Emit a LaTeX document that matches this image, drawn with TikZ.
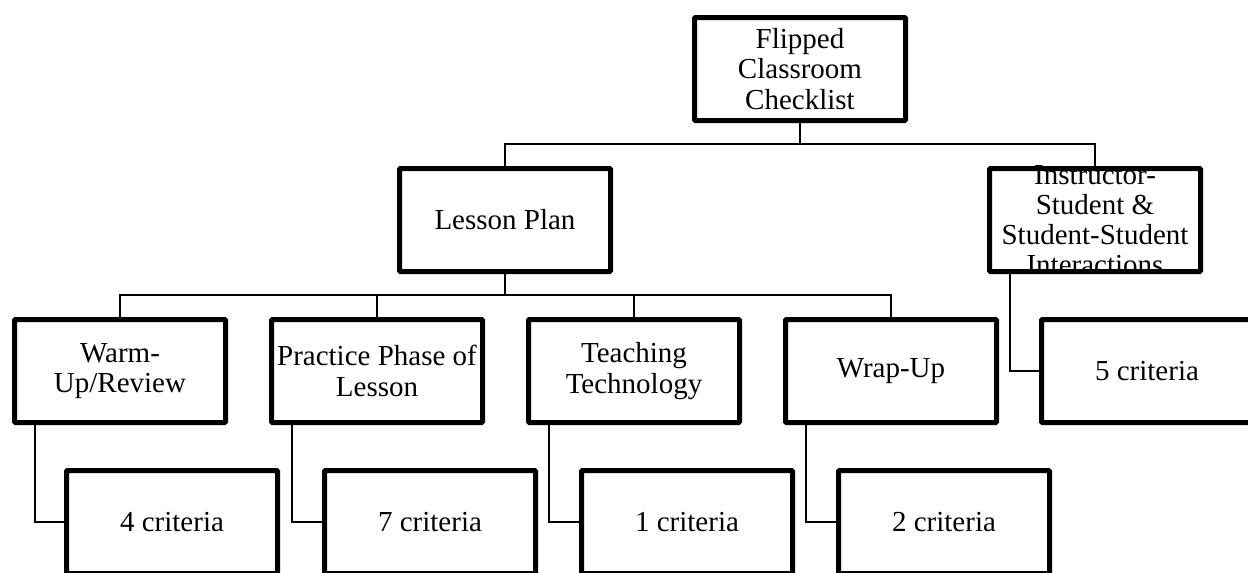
\documentclass[tikz,border=0pt]{standalone}
\usepackage{fontspec}
\setmainfont{Liberation Serif}

\begin{document}
\begin{tikzpicture}[x=1pt,y=1pt,
  box/.style={draw,line width=5pt,rounded corners=1pt,minimum width=211pt,minimum height=103pt,
    align=center,inner sep=2pt,font=\fontsize{29}{30.5}\selectfont},
  link/.style={line width=1.4pt}]
\clip (0,0) rectangle (1248,-573);
\node[box] (top) at (800,-69) {Flipped\\Classroom\\Checklist};
\node[box] (lesson) at (505,-220) {Lesson Plan};
\node[box] (instr) at (1095,-220) {};
\begin{scope}
\clip (980,-150) rectangle (1210,-273);
\node[align=center,inner sep=0pt,font=\fontsize{29}{30}\selectfont] (instrtext) at (instr.center) {Instructor-\\Student \&\\Student-Student\\Interactions};
\end{scope}
\node[box] (warm) at (120,-371) {Warm-\\Up/Review};
\node[box] (practice) at (377,-371) {Practice Phase of\\Lesson};
\node[box] (teaching) at (634,-371) {Teaching\\Technology};
\node[box] (wrap) at (891,-371) {Wrap-Up};
\node[box] (five) at (1147,-371) {5 criteria};
\node[box] (four) at (172,-522) {4 criteria};
\node[box] (seven) at (430,-522) {7 criteria};
\node[box] (one) at (687,-522) {1 criteria};
\node[box] (two) at (944,-522) {2 criteria};
\coordinate (bar1) at (800,-144);
\coordinate (bar2) at (505,-295);
\draw[link] (top.south) -- (bar1);
\draw[link] (lesson.north) |- (bar1) -| (instr.north);
\draw[link] (lesson.south) -- (bar2);
\draw[link] (warm.north) |- (bar2) -| (wrap.north);
\draw[link] (practice.north) |- (bar2);
\draw[link] (teaching.north) |- (bar2);
\draw[link] ([xshift=23pt]warm.south west) |- (four.west);
\draw[link] ([xshift=23pt]practice.south west) |- (seven.west);
\draw[link] ([xshift=23pt]teaching.south west) |- (one.west);
\draw[link] ([xshift=23pt]wrap.south west) |- (two.west);
\draw[link] ([xshift=23pt]instr.south west) |- (five.west);
\end{tikzpicture}
\end{document}
